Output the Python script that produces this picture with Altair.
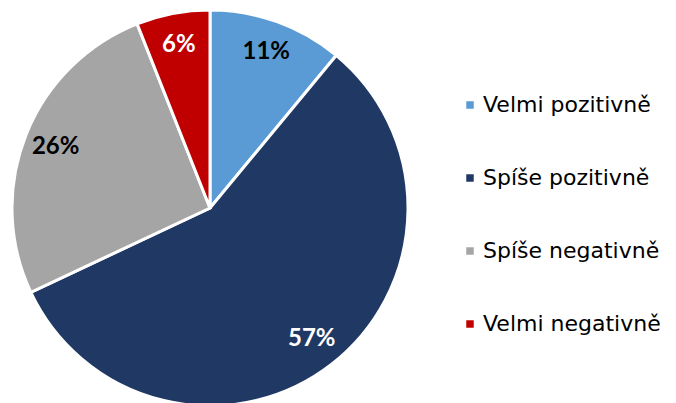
import altair as alt
import pandas as pd

categories = ["Velmi pozitivně", "Spíše pozitivně", "Spíše negativně", "Velmi negativně"]
values = [11, 57, 26, 6]
colors = ["#5B9BD5", "#203864", "#A5A5A5", "#C00000"]
label_colors = ["#000000", "#FFFFFF", "#000000", "#FFFFFF"]

df = pd.DataFrame({
    "cat": categories,
    "val": values,
    "idx": list(range(len(categories))),
    "lbl": [f"{v}%" for v in values],
    "lc": label_colors,
})

base = alt.Chart(df).encode(
    theta=alt.Theta("val:Q", stack=True),
    order=alt.Order("idx:Q"),
    x=alt.value(202),
    y=alt.value(200),
)

arcs = base.mark_arc(outerRadius=198, stroke="white", strokeWidth=3).encode(
    color=alt.Color(
        "cat:N",
        scale=alt.Scale(domain=categories, range=colors),
        sort=categories,
        legend=alt.Legend(
            title=None,
            orient="none",
            legendX=451,
            legendY=86,
            symbolType="square",
            symbolSize=56,
            symbolStrokeWidth=0,
            labelFont="DejaVu Sans",
            labelFontSize=22,
            labelColor="#000000",
            labelOffset=2,
            labelLimit=400,
            rowPadding=51,
            padding=0,
        ),
    )
)

labels = base.mark_text(radius=166, font="Lato", fontWeight="bold", fontSize=24).encode(
    text="lbl:N",
    color=alt.Color("lc:N", scale=None),
)

chart = alt.layer(arcs, labels).properties(
    width=660, height=400, padding=0,
    autosize=alt.AutoSizeParams(type="none"),
).configure_view(stroke=None)

chart.save("out.html", embed_options={"renderer": "svg", "actions": False})
